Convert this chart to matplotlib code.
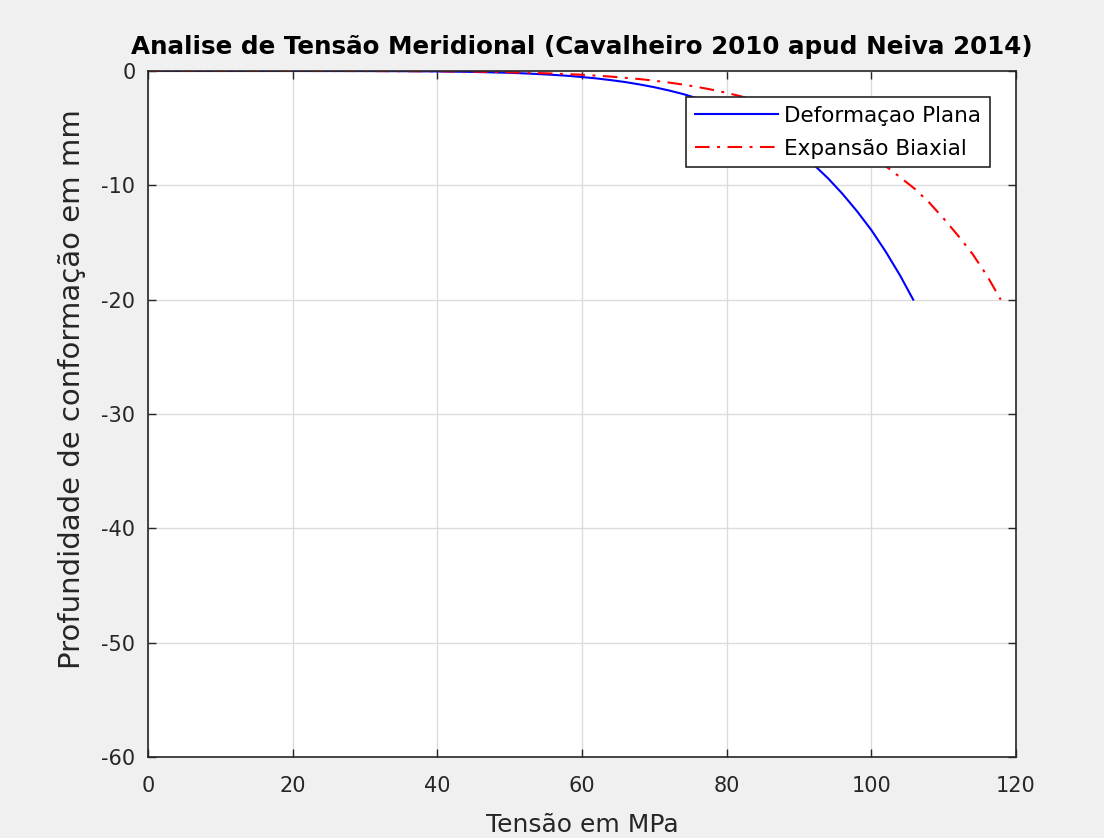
import matplotlib
matplotlib.use('Agg')
from matplotlib import pyplot as plt

# Values (tension in MPa vs forming depth in mm)
plana_x = [0, 20, 30, 35, 40, 45, 50, 52, 54, 56, 58, 60, 62, 64, 66, 68, 70, 72, 74, 76, 78,
           80, 82, 84, 86, 88, 90, 92, 94, 96, 98, 100, 102, 104, 105.8]
plana_y = [0, -0.0005, -0.006, -0.017, -0.039, -0.083, -0.16, -0.21, -0.27, -0.34, -0.42, -0.53,
           -0.65, -0.80, -0.97, -1.18, -1.42, -1.70, -2.02, -2.40, -2.83, -3.33, -3.90, -4.56,
           -5.30, -6.14, -7.09, -8.17, -9.37, -10.73, -12.24, -13.9, -15.8, -17.9, -20]

biaxial_x = [0, 20, 30, 40, 45, 50, 55, 60, 62, 64, 66, 68, 70, 72, 74, 76, 78, 80, 82, 84, 86,
             88, 90, 92, 94, 96, 98, 100, 102, 104, 106, 108, 110, 112, 114, 116, 117.9]
biaxial_y = [0, -0.0004, -0.005, -0.028, -0.055, -0.11, -0.2, -0.33, -0.41, -0.49, -0.60, -0.71,
             -0.85, -1.01, -1.19, -1.40, -1.64, -1.91, -2.22, -2.57, -2.96, -3.40, -3.90, -4.45,
             -5.08, -5.77, -6.53, -7.38, -8.32, -9.30, -10.3, -11.5, -12.9, -14.4, -16.0, -17.9, -20]

x_ticks = [0, 20, 40, 60, 80, 100, 120]
y_ticks = [-60, -50, -40, -30, -20, -10, 0]

plt.rcParams['font.family'] = ['DejaVu Sans']
plt.rcParams['axes.unicode_minus'] = False

fig = plt.figure(figsize=(11.04, 8.38), dpi=100, facecolor='#F0F0F0')
ax = fig.add_axes([0.134, 0.0967, 0.7862, 0.8186])

ax.plot(plana_x, plana_y, color='#0000FF', linewidth=1.5, label='Deformaçao Plana')
ax.plot(biaxial_x, biaxial_y, color='#FF0000', linewidth=1.5,
        dashes=(7, 3.6, 1.4, 3.6), label='Expansão Biaxial')

ax.set_xlim(0, 120)
ax.set_ylim(-60, 0)
ax.set_xticks(x_ticks)
ax.set_yticks(y_ticks)
ax.grid(True, color='#DCDCDC', linewidth=1)
ax.set_axisbelow(True)
ax.tick_params(axis='both', direction='in', length=6, width=1, top=True, right=True,
               labelsize=15, colors='#262626')
ax.tick_params(axis='x', pad=14)
ax.tick_params(axis='y', pad=9)
for s in ax.spines.values():
    s.set_color('#262626')
    s.set_linewidth(1.2)

ax.set_title('Analise de Tensão Meridional (Cavalheiro 2010 apud Neiva 2014)',
             fontsize=17.7, fontweight='bold', pad=12)
ax.set_xlabel('Tensão em MPa', fontsize=18, color='#262626', labelpad=12)
ax.set_ylabel('Profundidade de conformação em mm', fontsize=21, color='#262626')
ax.yaxis.set_label_coords(-0.071, 0.536)

leg = ax.legend(loc='upper right', bbox_to_anchor=(0.970, 0.962), borderaxespad=0,
                fontsize=15.5, fancybox=False, framealpha=1, edgecolor='#262626',
                borderpad=0.4, handlelength=3.85, handletextpad=0.3, labelspacing=0.6)
leg.get_frame().set_linewidth(1.2)

plt.savefig('out.png', dpi=100, facecolor=fig.get_facecolor())
plt.close()
